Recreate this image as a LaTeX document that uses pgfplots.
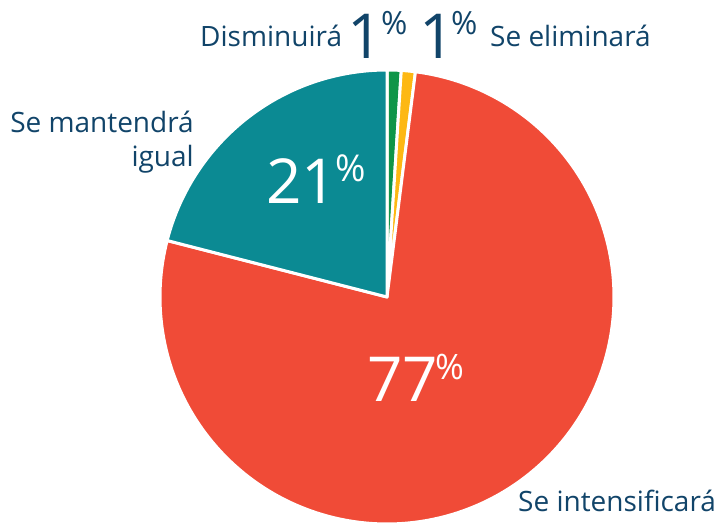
\documentclass[border=0pt]{standalone}
\usepackage{pgfplots}
\pgfplotsset{compat=1.18}
\usepackage{fontspec}
\setmainfont{Open Sans}
\definecolor{navy}{HTML}{114469}
\definecolor{teal}{HTML}{0B8A93}
\definecolor{redp}{HTML}{F04B37}
\definecolor{greenp}{HTML}{0F9548}
\definecolor{yellowp}{HTML}{FDB813}
% slice values (percent), clockwise from top
\def\vA{1}  % Disminuira
\def\vB{1}  % Se eliminara
\def\vC{77} % Se intensificara
\def\vD{21} % Se mantendra igual
\pgfmathsetmacro\aA{90}
\pgfmathsetmacro\aB{\aA-3.6*\vA}
\pgfmathsetmacro\aC{\aB-3.6*\vB}
\pgfmathsetmacro\aD{\aC-3.6*\vC}
\pgfmathsetmacro\aE{\aD-3.6*\vD}
\def\cx{387}\def\cy{227}\def\R{227}
\begin{document}
\begin{tikzpicture}
\begin{axis}[name=ax, scale only axis, width=721pt, height=524pt,
  xmin=0, xmax=721, ymin=0, ymax=524, hide axis, clip=false,
  every axis plot/.style={draw=white, line width=3pt, line join=round, samples=80, variable=\t}]
\addplot[fill=greenp, domain=\aB:\aA] ({\cx+\R*cos(\t)},{\cy+\R*sin(\t)}) -- (axis cs:\cx,\cy) -- cycle;
\addplot[fill=yellowp, domain=\aC:\aB] ({\cx+\R*cos(\t)},{\cy+\R*sin(\t)}) -- (axis cs:\cx,\cy) -- cycle;
\addplot[fill=redp, domain=\aD:\aC, samples=200] ({\cx+\R*cos(\t)},{\cy+\R*sin(\t)}) -- (axis cs:\cx,\cy) -- cycle;
\addplot[fill=teal, domain=\aE:\aD] ({\cx+\R*cos(\t)},{\cy+\R*sin(\t)}) -- (axis cs:\cx,\cy) -- cycle;
% labels
\node[anchor=base west, inner sep=0, text=navy, font=\fontsize{28}{30}\selectfont] at (axis cs:200,477) {Disminuirá};
\node[anchor=base west, inner sep=0, text=navy, font=\fontsize{62}{62}\selectfont] at (axis cs:347,465) {1};
\node[anchor=base west, inner sep=0, text=navy, font=\fontsize{32}{32}\selectfont] at (axis cs:381,489) {\%};
\node[anchor=base west, inner sep=0, text=navy, font=\fontsize{62}{62}\selectfont] at (axis cs:419,465) {1};
\node[anchor=base west, inner sep=0, text=navy, font=\fontsize{32}{32}\selectfont] at (axis cs:451,489) {\%};
\node[anchor=base west, inner sep=0, text=navy, font=\fontsize{28}{30}\selectfont] at (axis cs:490,477) {Se eliminará};
\node[anchor=base east, inner sep=0, text=navy, font=\fontsize{28}{30}\selectfont] at (axis cs:194,391) {Se mantendrá};
\node[anchor=base east, inner sep=0, text=navy, font=\fontsize{28}{30}\selectfont] at (axis cs:194,357) {igual};
\node[anchor=base west, inner sep=0, text=navy, font=\fontsize{28}{30}\selectfont] at (axis cs:518,12) {Se intensificará};
\node[anchor=base west, inner sep=0, text=white, font=\fontsize{62}{62}\selectfont] at (axis cs:266,320) {21};
\node[anchor=base west, inner sep=0, text=white, font=\fontsize{37}{37}\selectfont] at (axis cs:335,342) {\%};
\node[anchor=base west, inner sep=0, text=white, font=\fontsize{62}{62}\selectfont] at (axis cs:367,122) {77};
\node[anchor=base west, inner sep=0, text=white, font=\fontsize{35}{35}\selectfont] at (axis cs:435,144) {\%};
\end{axis}
\pgfresetboundingbox
\path (ax.south west) rectangle (ax.north east);
\end{tikzpicture}
\end{document}
